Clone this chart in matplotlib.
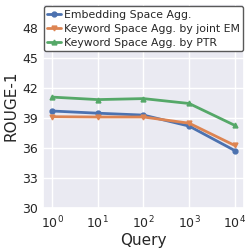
import numpy as np
import matplotlib.pyplot as plt
import seaborn as sns

# data
queries = [1, 10, 100, 1000, 10000]
embedding = [39.7, 39.48, 39.29, 38.19, 35.74]
joint_em = [39.13, 39.1, 39.1, 38.48, 36.25]
ptr = [41.09, 40.84, 40.94, 40.45, 38.26]
labels = ["Embedding Space Agg.", "Keyword Space Agg. by joint EM", "Keyword Space Agg. by PTR"]
yticks = [30, 33, 36, 39, 42, 45, 48]

sns.set_theme(style="darkgrid")
plt.rcParams['font.family'] = ['DejaVu Sans']

fig = plt.figure(figsize=(2.51, 2.5), dpi=100)
ax = fig.add_axes([0.171, 0.168, 0.801, 0.816])

colors = sns.color_palette("deep")
ax.plot(queries, embedding, marker="o", color=colors[0], lw=2, ms=3.5, label=labels[0])
ax.plot(queries, joint_em, marker="v", color=colors[1], lw=2, ms=3.5, label=labels[1])
ax.plot(queries, ptr, marker="^", color=colors[2], lw=2, ms=3.5, label=labels[2])

ax.set_xscale("log")
ax.set_xticks(queries)
ax.minorticks_off()
ax.set_ylim(30, 50.4)
ax.set_yticks(yticks)
ax.tick_params(labelsize=9, length=0, pad=5)
ax.tick_params(axis="y", pad=3.5)
ax.set_xlabel("Query", fontsize=11, labelpad=1)
ax.set_ylabel("ROUGE-1", fontsize=11, labelpad=3)

leg = ax.legend(loc="upper center", fontsize=7.8, handlelength=1.3, handletextpad=0.2,
                labelspacing=0.35, borderpad=0.35, borderaxespad=0.2, frameon=True,
                fancybox=True)
leg.get_frame().set_edgecolor("0.35")
leg.get_frame().set_facecolor("white")
leg.get_frame().set_alpha(1)

fig.savefig("out.png", dpi=100)
